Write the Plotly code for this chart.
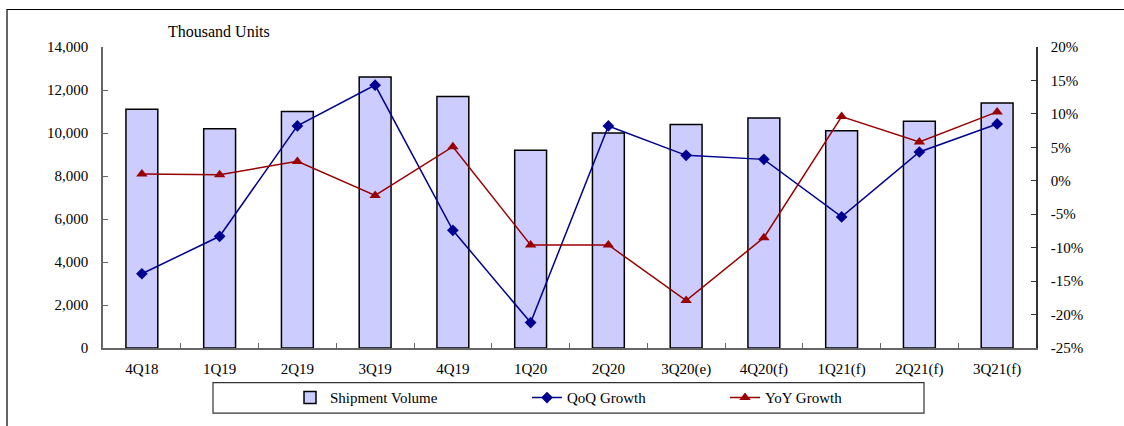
import plotly.graph_objects as go

# Quarterly shipment data (thousand units) with growth rates in percent
quarters = ["4Q18", "1Q19", "2Q19", "3Q19", "4Q19", "1Q20", "2Q20",
            "3Q20(e)", "4Q20(f)", "1Q21(f)", "2Q21(f)", "3Q21(f)"]
shipments = [11100, 10200, 11000, 12600, 11700, 9200, 10000,
             10400, 10700, 10100, 10550, 11400]
qoq_growth = [-13.9, -8.3, 8.2, 14.3, -7.4, -21.2, 8.2, 3.8, 3.2, -5.4, 4.3, 8.5]
yoy_growth = [1.0, 0.9, 2.9, -2.2, 5.1, -9.6, -9.6, -17.9, -8.5, 9.6, 5.8, 10.3]

pct_tickvals = [-25, -20, -15, -10, -5, 0, 5, 10, 15, 20]
pct_ticktext = ["-25%", "-20%", "-15%", "-10%", "-5%", "0%", "5%", "10%", "15%", "20%"]

FONT = "Liberation Serif"
W, H = 1124, 426
ML, MR, MT, MB = 103, 88, 47, 74
PW, PH = W - ML - MR, H - MT - MB


def px_x(px):
    return (px - ML) / PW


def px_y(py):
    return (H - MB - py) / PH


fig = go.Figure()

fig.add_trace(go.Bar(
    x=quarters, y=shipments, name="Shipment Volume",
    marker=dict(color="#CCCCFF", line=dict(color="#000000", width=1.5)),
    width=0.41, legend="legend", yaxis="y", showlegend=True,
))
fig.add_trace(go.Scatter(
    x=quarters, y=qoq_growth, name="QoQ Growth", mode="lines+markers",
    line=dict(color="#000090", width=1.5),
    marker=dict(symbol="diamond", size=9, color="#000090"),
    legend="legend2", yaxis="y2", showlegend=True,
))
fig.add_trace(go.Scatter(
    x=quarters, y=yoy_growth, name="YoY Growth", mode="lines+markers",
    line=dict(color="#990000", width=1.5),
    marker=dict(symbol="triangle-up", size=10, color="#990000"),
    legend="legend3", yaxis="y2", showlegend=True,
))

axis_line = "#666666"
tick_font = dict(family=FONT, size=15, color="#000000")

legend_common = dict(
    orientation="h", yanchor="middle", xanchor="left",
    bgcolor="rgba(0,0,0,0)", borderwidth=0,
    font=dict(family=FONT, size=15, color="#000000"),
    y=px_y(402.5), visible=True,
)

fig.update_layout(
    width=W, height=H,
    margin=dict(l=ML, r=MR, t=MT, b=MB),
    paper_bgcolor="white", plot_bgcolor="white",
    showlegend=True,
    font=dict(family=FONT, size=15, color="#000000"),
    xaxis=dict(
        range=[-0.5, len(quarters) - 0.5],
        showline=True, linecolor=axis_line, linewidth=1.5,
        ticks="inside", ticklen=5, tickcolor=axis_line, tickson="boundaries",
        tickfont=tick_font, showgrid=False, zeroline=False,
        ticklabelstandoff=6,
    ),
    yaxis=dict(
        range=[0, 14000], dtick=2000, tickformat=",d",
        showline=True, linecolor=axis_line, linewidth=1.5,
        ticks="inside", ticklen=5, tickcolor=axis_line,
        tickfont=tick_font, showgrid=False, zeroline=False,
        ticklabelstandoff=10,
    ),
    yaxis2=dict(
        range=[-25, 20], tickvals=pct_tickvals, ticktext=pct_ticktext,
        overlaying="y", side="right",
        showline=True, linecolor="#333333", linewidth=1.5,
        ticks="inside", ticklen=5, tickcolor="#333333",
        tickfont=tick_font, showgrid=False, zeroline=False,
        ticklabelstandoff=10,
    ),
    legend=dict(**legend_common, x=px_x(290)),
    legend2=dict(**legend_common, x=px_x(527)),
    legend3=dict(**legend_common, x=px_x(725)),
    annotations=[dict(
        text="Thousand Units", xref="paper", yref="paper",
        x=px_x(166), y=px_y(31), xanchor="left", yanchor="middle",
        showarrow=False, font=dict(family=FONT, size=16, color="#000000"),
    )],
    shapes=[
        # outer chart frame
        dict(type="rect", xref="paper", yref="paper",
             x0=px_x(7), x1=px_x(1140), y0=px_y(440), y1=px_y(9),
             line=dict(color="#000000", width=1.2), layer="below"),
        # legend frame
        dict(type="rect", xref="paper", yref="paper",
             x0=px_x(213), x1=px_x(924), y0=px_y(418), y1=px_y(387),
             line=dict(color="#333333", width=1.2), layer="below"),
    ],
)

fig.write_html("out.html")
